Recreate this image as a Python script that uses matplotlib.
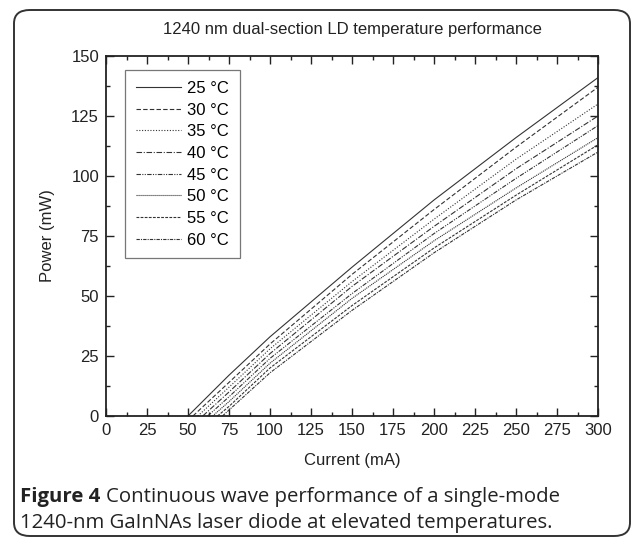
import matplotlib
matplotlib.use("Agg")
import matplotlib.pyplot as plt
from matplotlib.patches import FancyBboxPatch
from matplotlib.ticker import MultipleLocator

# Data: current (mA) and optical power (mW) per temperature
labels = ["25 \u00b0C", "30 \u00b0C", "35 \u00b0C", "40 \u00b0C", "45 \u00b0C", "50 \u00b0C", "55 \u00b0C", "60 \u00b0C"]
i_25 = [50, 75, 100, 150, 200, 250, 300]
p_25 = [0, 17, 33, 62, 90, 116, 141]
i_30 = [53, 75, 100, 150, 200, 250, 300]
p_30 = [0, 14, 30, 59, 86, 112, 137]
i_35 = [56, 75, 100, 150, 200, 250, 300]
p_35 = [0, 12, 28, 56, 82, 107, 130]
i_40 = [59, 75, 100, 150, 200, 250, 300]
p_40 = [0, 10, 26, 54, 79, 103, 125]
i_45 = [62, 75, 100, 150, 200, 250, 300]
p_45 = [0, 8, 24, 51, 76, 99, 121]
i_50 = [65, 75, 100, 150, 200, 250, 300]
p_50 = [0, 6, 22, 49, 73, 95, 116]
i_55 = [68, 75, 100, 150, 200, 250, 300]
p_55 = [0, 4, 20, 46, 70, 92, 113]
i_60 = [71, 100, 150, 200, 250, 300]
p_60 = [0, 18, 44, 68, 90, 110]

currents = [i_25, i_30, i_35, i_40, i_45, i_50, i_55, i_60]
powers = [p_25, p_30, p_35, p_40, p_45, p_50, p_55, p_60]
styles = ["-", (0, (4, 2)), (0, (1, 1.5)), (0, (5, 1.5, 1, 1.5)),
          (0, (4, 1.2, 1, 1.2, 1, 1.2)), (0, (1, 0.8)), (0, (2.5, 1.2)), (0, (3, 1, 1, 1))]

W, H = 635, 538
fig = plt.figure(figsize=(W / 100, H / 100), dpi=100)

tick_font = "Liberation Sans"
ink = "#222222"

ax = fig.add_axes([106 / W, 1 - 416 / H, 492 / W, 360 / H])
for x, y, ls, lab in zip(currents, powers, styles, labels):
    ax.plot(x, y, color="#333333", lw=0.8, linestyle=ls, label=lab)

ax.set_xlim(0, 300)
ax.set_ylim(0, 150)
ax.xaxis.set_major_locator(MultipleLocator(25))
ax.xaxis.set_minor_locator(MultipleLocator(12.5))
ax.yaxis.set_major_locator(MultipleLocator(25))
ax.yaxis.set_minor_locator(MultipleLocator(12.5))
ax.tick_params(which="both", direction="in", top=True, right=True, width=1.0, color=ink)
ax.tick_params(which="major", length=6, labelsize=12, pad=5)
ax.tick_params(which="minor", length=3)
for lbl in ax.get_xticklabels() + ax.get_yticklabels():
    lbl.set_fontfamily(tick_font)
    lbl.set_color(ink)
for s in ax.spines.values():
    s.set_linewidth(1.3)
    s.set_color(ink)

ax.set_xlabel("Current (mA)", fontsize=12, family=tick_font, color=ink, labelpad=11)
ax.set_ylabel("Power (mW)", fontsize=12, family=tick_font, color=ink, labelpad=12)
ax.set_title("1240 nm dual-section LD temperature performance", fontsize=12,
             family=tick_font, color=ink, pad=16)

leg = ax.legend(loc="upper left", bbox_to_anchor=(0.039, 0.961), frameon=True, fancybox=False,
                edgecolor="#555555", handlelength=2.7, handletextpad=0.35,
                labelspacing=0.40, borderpad=0.65, borderaxespad=0,
                prop={"family": tick_font, "size": 12})
leg.get_frame().set_linewidth(0.9)

# Rounded frame around the whole figure panel
frame = FancyBboxPatch((14 / W, 2 / H), 616 / W, 526 / H,
                       boxstyle="round,pad=0,rounding_size=0.025",
                       transform=fig.transFigure, fill=False,
                       edgecolor="#333333", lw=1.4)
fig.patches.append(frame)

cap_font = "Open Sans"
cap_size = 14.7
t1 = fig.text(20 / W, 1 - 497 / H, "Figure 4", fontsize=cap_size, fontweight="bold",
              family=cap_font, color=ink, va="center")
fig.canvas.draw()
bb = t1.get_window_extent(renderer=fig.canvas.get_renderer())
x2 = (bb.x1 + 6) / W
fig.text(x2, 1 - 497 / H, "Continuous wave performance of a single-mode",
         fontsize=cap_size, family=cap_font, color=ink, va="center")
fig.text(20 / W, 1 - 523 / H, "1240-nm GaInNAs laser diode at elevated temperatures.",
         fontsize=cap_size, family=cap_font, color=ink, va="center")

fig.savefig("out.png", dpi=100)
